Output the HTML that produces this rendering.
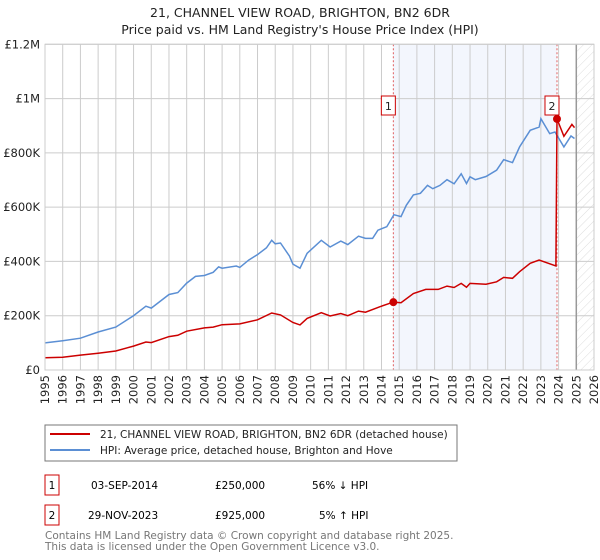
<!DOCTYPE html>
<html><head><meta charset="utf-8"><style>
body{margin:0;background:#fff;}
svg{display:block;font-family:"DejaVu Sans","Liberation Sans",sans-serif;}
</style></head><body>
<svg id="chart" width="600" height="560" viewBox="0 0 600 560">
<text x="300" y="17" text-anchor="middle" font-size="12.5" fill="#222">21, CHANNEL VIEW ROAD, BRIGHTON, BN2 6DR</text>
<text x="300" y="34" text-anchor="middle" font-size="12.5" fill="#222">Price paid vs. HM Land Registry's House Price Index (HPI)</text>
<g id="plot"></g>
<rect x="45" y="425" width="412" height="36" fill="#fff" stroke="#777"/>
<line x1="50" y1="434" x2="90" y2="434" stroke="#cc0000" stroke-width="2"/>
<text x="100" y="438" font-size="10.5" fill="#222">21, CHANNEL VIEW ROAD, BRIGHTON, BN2 6DR (detached house)</text>
<line x1="50" y1="450" x2="90" y2="450" stroke="#5b8fd4" stroke-width="2"/>
<text x="100" y="454" font-size="10.5" fill="#222">HPI: Average price, detached house, Brighton and Hove</text>
<rect x="45" y="475" width="14" height="20" fill="#fff" stroke="#cc0000"/>
<text x="52" y="489" text-anchor="middle" font-size="10.5">1</text>
<text x="91" y="489" font-size="10.5">03-SEP-2014</text>
<text x="215" y="489" font-size="10.5">£250,000</text>
<text x="312" y="489" font-size="10.5">56% ↓ HPI</text>
<rect x="45" y="505" width="14" height="20" fill="#fff" stroke="#cc0000"/>
<text x="52" y="519" text-anchor="middle" font-size="10.5">2</text>
<text x="88" y="519" font-size="10.5">29-NOV-2023</text>
<text x="215" y="519" font-size="10.5">£925,000</text>
<text x="319" y="519" font-size="10.5">5% ↑ HPI</text>
<text x="45" y="539" font-size="10.5" fill="#777">Contains HM Land Registry data © Crown copyright and database right 2025.</text>
<text x="45" y="550" font-size="10.5" fill="#777">This data is licensed under the Open Government Licence v3.0.</text>
</svg>
<script>
const yTicks=[0,200000,400000,600000,800000,1000000,1200000];
const yTickLabels=["£0","£200K","£400K","£600K","£800K","£1M","£1.2M"];
const xYears=[1995,1996,1997,1998,1999,2000,2001,2002,2003,2004,2005,2006,2007,2008,2009,2010,2011,2012,2013,2014,2015,2016,2017,2018,2019,2020,2021,2022,2023,2024,2025,2026];
const hpiT=[1995,1996,1997,1998,1999,2000,2000.7,2001,2002,2002.5,2003,2003.5,2004,2004.5,2004.8,2005,2005.8,2006,2006.5,2007,2007.5,2007.8,2008,2008.3,2008.8,2009,2009.4,2009.8,2010.6,2011.1,2011.7,2012.1,2012.7,2013.1,2013.5,2013.8,2014.3,2014.7,2015.1,2015.4,2015.8,2016.2,2016.6,2016.9,2017.3,2017.7,2018.1,2018.5,2018.8,2019.0,2019.3,2019.9,2020.5,2020.9,2021.4,2021.8,2022.4,2022.9,2023.0,2023.5,2023.8,2024.3,2024.7,2024.9];
const hpiV=[100000,108000,117000,140000,158000,200000,235000,228000,278000,285000,320000,345000,348000,360000,380000,375000,383000,378000,405000,425000,450000,478000,465000,468000,420000,390000,375000,430000,478000,453000,475000,462000,493000,485000,485000,515000,528000,572000,565000,607000,645000,651000,680000,668000,680000,701000,686000,723000,687000,712000,701000,713000,736000,775000,764000,822000,883000,895000,926000,871000,877000,822000,862000,853000];
const priceT=[1995,1996,1997,1998,1999,2000,2000.7,2001,2002,2002.5,2003,2004,2004.5,2005,2006,2007,2007.8,2008.3,2009,2009.4,2009.8,2010.6,2011.1,2011.7,2012.1,2012.7,2013.1,2013.9,2014.67,2015.1,2015.8,2016.5,2017.2,2017.7,2018.1,2018.5,2018.8,2019.0,2019.9,2020.5,2020.9,2021.4,2021.8,2022.4,2022.9,2023.85,2023.91,2024.3,2024.75,2024.9];
const priceV=[45000,47000,55000,62000,70000,88000,103000,101000,123000,128000,143000,155000,158000,167000,170000,185000,210000,203000,175000,166000,190000,211000,199000,208000,200000,217000,213000,233000,250000,248000,282000,297000,297000,309000,304000,319000,305000,319000,316000,325000,341000,338000,362000,393000,405000,383000,925000,861000,905000,893000];
const saleT=[2014.67,2023.91];
const saleV=[250000,925000];
const saleLabels=["1","2"];
const X0=45,X1=594,Y0=370,Y1=44.3;
const x=t=>X0+(t-1995)/(2026-1995)*(X1-X0);
const y=v=>Y0-v/1200000*(Y0-Y1);
const NS="http://www.w3.org/2000/svg";
const g=document.getElementById('plot');
function mk(tag,attrs,parent){const e=document.createElementNS(NS,tag);for(const k in attrs)e.setAttribute(k,attrs[k]);(parent||g).appendChild(e);return e;}
let sh=mk('rect',{x:x(saleT[0]),y:Y1,width:x(saleT[1])-x(saleT[0]),height:Y0-Y1,fill:'#f3f6fd'});


const defs=mk('defs',{});
const pat=mk('pattern',{id:'hatch',width:6,height:6,patternUnits:'userSpaceOnUse',patternTransform:'rotate(45)'},defs);
mk('line',{x1:0,y1:0,x2:0,y2:6,stroke:'#ddd','stroke-width':1},pat);
let ht=mk('rect',{x:x(2025),y:Y1,width:X1-x(2025),height:Y0-Y1,fill:'url(#hatch)'});


xYears.forEach(t=>{let l=mk('line',{x1:x(t),y1:Y1,x2:x(t),y2:Y0,stroke:'#ccc','stroke-width':1});


let tx=mk('text',{x:0,y:0,transform:`translate(${x(t)+4},${Y0+5}) rotate(-90)`,'text-anchor':'end','font-size':'11.5',fill:'#222'});tx.textContent=t;

});
yTicks.forEach((v,i)=>{let l=mk('line',{x1:X0,y1:y(v),x2:X1,y2:y(v),stroke:'#ccc','stroke-width':1});


let tx=mk('text',{x:40,y:y(v)+4,'text-anchor':'end','font-size':'11.5',fill:'#222'});tx.textContent=yTickLabels[i];

});
let vl=mk('line',{x1:x(2025),y1:Y1,x2:x(2025),y2:Y0,stroke:'#999','stroke-width':1.5});


saleT.forEach((t,i)=>{let l=mk('line',{x1:x(t),y1:Y1,x2:x(t),y2:Y0,stroke:'#e06060','stroke-width':1,'stroke-dasharray':'2,2'});

});
const pts=(T,V)=>T.map((t,i)=>x(t).toFixed(1)+','+y(V[i]).toFixed(1)).join(' ');
let hp=mk('polyline',{points:pts(hpiT,hpiV),fill:'none',stroke:'#5b8fd4','stroke-width':1.5});


let pp=mk('polyline',{points:pts(priceT,priceV),fill:'none',stroke:'#cc0000','stroke-width':1.5});


saleT.forEach((t,i)=>{let c=mk('circle',{cx:x(t),cy:y(saleV[i]),r:4,fill:'#cc0000'});


let b=mk('rect',{x:x(t)-12,y:96,width:14,height:19,fill:'#fff',stroke:'#cc0000'});


let tx=mk('text',{x:x(t)-5,y:110,'text-anchor':'middle','font-size':'11',fill:'#222'});tx.textContent=saleLabels[i];

});
let bd=mk('rect',{x:X0,y:Y1,width:X1-X0,height:Y0-Y1,fill:'none',stroke:'#ccc'});


</script>
</body></html>
